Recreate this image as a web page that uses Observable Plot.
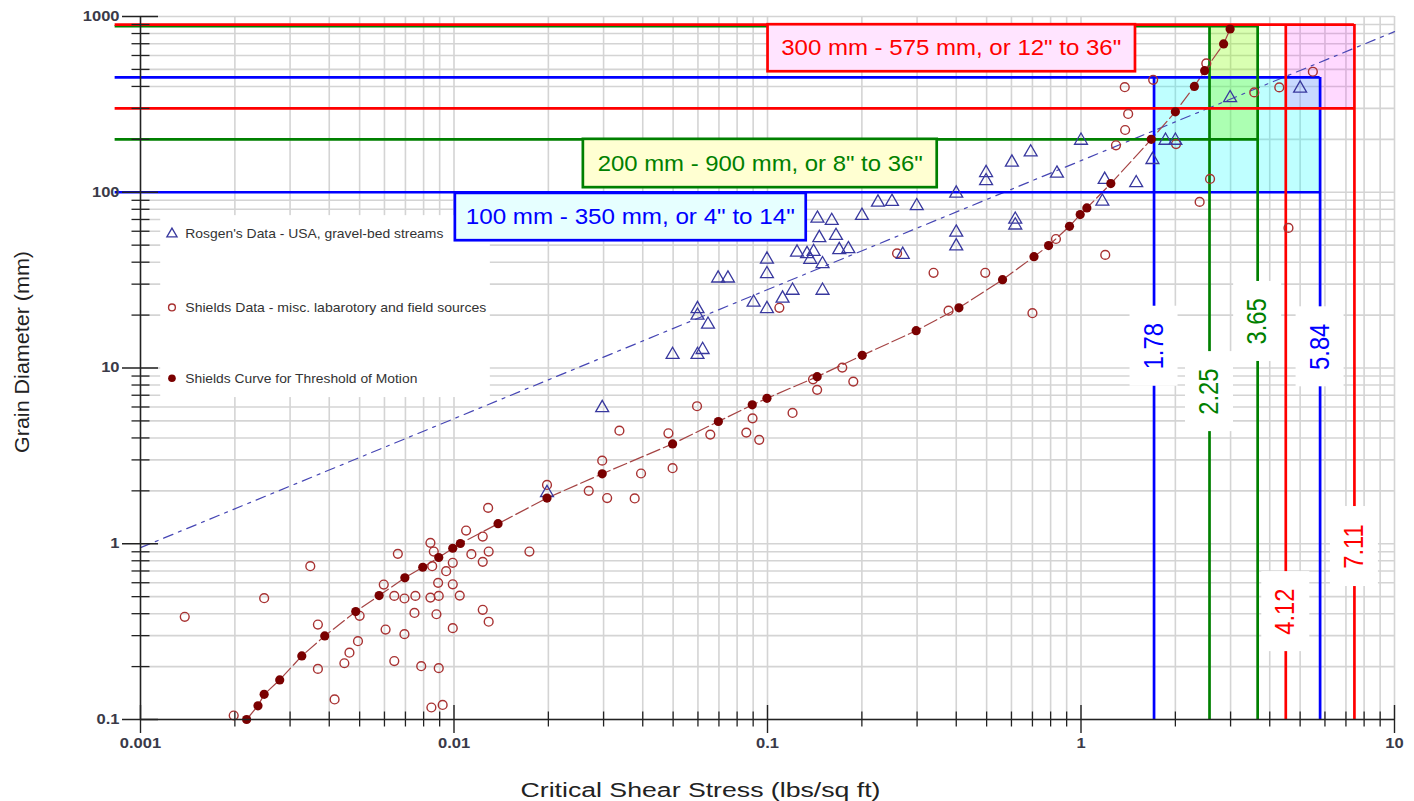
<!DOCTYPE html>
<html>
<head>
<meta charset="utf-8">
<script src="https://cdn.jsdelivr.net/npm/d3@7"></script>
<script src="https://cdn.jsdelivr.net/npm/@observablehq/plot@0.6"></script>
<style>
  html, body { margin: 0; padding: 0; background: #ffffff; }
  #chart svg { display: block; }
</style>
</head>
<body>
<div id="chart"></div>
<script>
// ---------------- DATA ----------------
// Rosgen's Data - USA, gravel-bed streams (critical shear stress lbs/sq ft, grain diameter mm)
const rosgenX = [0.0198, 0.0297, 0.0498, 0.0598, 0.0621, 0.0598, 0.0598, 0.0646, 0.0696, 0.0748,
  0.0903, 0.0996, 0.0996, 0.0996, 0.1117, 0.1202, 0.1498, 0.1242, 0.1337, 0.1403,
  0.1369, 0.1498, 0.1463, 0.1654, 0.1443, 0.1603, 0.1694, 0.1811, 0.2001, 0.2251,
  0.2495, 0.2993, 0.270, 0.400, 0.400, 0.400, 0.498, 0.498, 0.602, 0.691,
  0.617, 0.617, 0.838, 1.0, 1.19, 1.17, 1.50, 1.69, 1.86, 2.00, 2.99, 5.00];
const rosgenY = [1.95, 5.93, 11.9, 11.9, 12.7, 19.9, 21.7, 17.7, 32.4, 32.4,
  23.6, 21.7, 34.3, 41.5, 24.9, 27.6, 27.6, 45.5, 44.6, 45.9,
  41.4, 39.1, 55.0, 56.6, 71.0, 68.9, 47.0, 47.6, 73.6, 87.6,
  88.4, 83.6, 44.2, 98.6, 59.1, 49.4, 129, 116, 148, 169,
  70.0, 64.9, 128, 197, 118, 88.6, 113, 153, 197, 197, 344, 390];

// Shields Data - misc. laboratory and field sources
const shieldsX = [0.001384, 0.001983, 0.00248, 0.00348, 0.00368, 0.00368, 0.00416, 0.00447, 0.00464, 0.00494,
  0.00500, 0.00597, 0.00645, 0.00662, 0.00605, 0.00645, 0.00695, 0.00695, 0.00748, 0.00753,
  0.00786, 0.00841, 0.00862, 0.00852, 0.00841, 0.00894, 0.00890, 0.00879, 0.00894, 0.00847,
  0.00920, 0.00944, 0.00991, 0.00991, 0.01043, 0.00991, 0.01093, 0.01136, 0.01235, 0.01285,
  0.01290, 0.01235, 0.01235, 0.0129, 0.0174, 0.0198, 0.0269, 0.0308, 0.0377, 0.0395,
  0.0297, 0.0337, 0.0483, 0.0498, 0.0596, 0.0657, 0.0856, 0.0896, 0.0941, 0.1202,
  0.1397, 0.144, 0.1732, 0.1878, 0.1091, 0.259, 0.3386, 0.495, 0.378, 0.700, 0.832, 1.195,
  1.293, 1.383, 1.414, 1.379, 1.699, 2.01, 2.51, 3.57, 4.29, 5.49,
  2.58, 2.39, 4.59];
const shieldsY = [0.384, 0.1054, 0.490, 0.745, 0.347, 0.194, 0.130, 0.209, 0.240, 0.279,
  0.389, 0.586, 0.505, 0.876, 0.325, 0.215, 0.488, 0.306, 0.404, 0.505,
  0.201, 1.012, 0.903, 0.745, 0.494, 0.505, 0.599, 0.397, 0.196, 0.117,
  0.121, 0.698, 0.779, 0.588, 0.507, 0.331, 1.189, 0.872, 1.099, 1.60,
  0.903, 0.789, 0.421, 0.360, 0.903, 2.16, 2.00, 1.82, 1.81, 2.51,
  2.97, 4.40, 4.25, 2.69, 6.06, 4.18, 4.29, 5.17, 3.90, 5.55,
  8.62, 7.51, 10.05, 8.37, 22.0, 44.9, 34.8, 34.8, 21.2, 20.5, 54.2, 44.0,
  185, 226, 279, 396, 436, 188, 541, 370, 395, 485,
  119, 88.1, 62.7];

// Shields Curve for Threshold of Motion
const curveX = [0.00218, 0.00237, 0.00248, 0.00278, 0.00327, 0.00387, 0.00486, 0.00577, 0.00697, 0.00795,
  0.00894, 0.00991, 0.01048, 0.01382, 0.0198, 0.0297, 0.0498, 0.0697, 0.0894, 0.0996,
  0.144, 0.2005, 0.298, 0.408, 0.562, 0.708, 0.788, 0.919, 0.994, 1.044,
  1.245, 1.675, 2.00, 2.30, 2.48, 2.85, 2.99];
const curveY = [0.1, 0.1197, 0.139, 0.168, 0.230, 0.299, 0.411, 0.507, 0.640, 0.735,
  0.835, 0.943, 1.003, 1.30, 1.82, 2.50, 3.70, 4.96, 6.17, 6.72,
  8.93, 11.8, 16.3, 22.0, 31.8, 43.0, 49.7, 64.0, 74.6, 81.4,
  112, 200, 287, 400, 492, 698, 849];

// Rosgen trend line (dash-dot)
const trendX = [0.001, 10];
const trendY = [0.95, 820];

// Size-class ranges: shear stress bounds (as drawn) and diameter bounds (as drawn)
const rangeText = ["100 mm - 350 mm, or 4\" to 14\"", "200 mm - 900 mm, or 8\" to 36\"", "300 mm - 575 mm, or 12\" to 36\""];
const rangeXLow = [1.71, 2.57, 4.50];
const rangeXHigh = [5.79, 3.66, 7.45];
const rangeYLow = [100, 200, 300];
const rangeYHigh = [450, 880, 900];
const rangeLowLabel = ["1.78", "2.25", "4.12"];
const rangeHighLabel = ["5.84", "3.65", "7.11"];

// Axis ticks
const xMajor = [0.001, 0.01, 0.1, 1, 10];
const xMajorLabels = ["0.001", "0.01", "0.1", "1", "10"];
const yMajor = [0.1, 1, 10, 100, 1000];
const yMajorLabels = ["0.1", "1", "10", "100", "1000"];
const minorMult = [2, 3, 4, 5, 6, 7, 8, 9];

const legendLabels = ["Rosgen's Data - USA, gravel-bed streams",
  "Shields Data - misc. labarotory and field sources",
  "Shields Curve for Threshold of Motion"];

const xTitle = "Critical Shear Stress (lbs/sq ft)";
const yTitle = "Grain Diameter (mm)";

// ---------------- STYLES / ANNOTATION ANCHORS ----------------
const rangeColors = ["#0000ff", "#008000", "#ff0000"];
const rangeFills = ["#00ffff", "#80ff00", "#ff00ff"];
const rangeFillOpacity = [0.25, 0.3, 0.15];
const labelBoxFills = ["#e6ffff", "#ffffd2", "#ffe4ff"];
// label box anchors (data units): [x1, x2, y1, y2, textX, textY]
const labelBoxes = [
  [0.0101, 0.1329, 98.5, 53.0, 0.0365, 72.6],
  [0.02586, 0.3478, 200, 106.2, 0.0948, 145.4],
  [0.1004, 1.492, 898, 485, 0.3855, 664]
];
// vertical value label anchors (y, data units) for low/high lines
const lowLabelY = [13.3, 7.34, 0.411];
const highLabelY = [13.2, 18.4, 0.964];
const lineStartX = 0.00083;

const rosgen = rosgenX.map((x, i) => ({x, y: rosgenY[i]}));
const shields = shieldsX.map((x, i) => ({x, y: shieldsY[i]}));
const curve = curveX.map((x, i) => ({x, y: curveY[i]}));
const trend = trendX.map((x, i) => ({x, y: trendY[i]}));

const xMinor = xMajor.slice(0, -1).flatMap(d => minorMult.map(m => +(d * m).toPrecision(6)));
const yMinor = yMajor.slice(0, -1).flatMap(d => minorMult.map(m => +(d * m).toPrecision(6)));
const xGrid = xMajor.concat(xMinor);
const yGrid = yMajor.concat(yMinor);

const marks = [];
// grid
marks.push(Plot.ruleX(xGrid, {x: d => d, stroke: "#d4d4d4", strokeWidth: 1.6}));
marks.push(Plot.ruleY(yGrid, {y: d => d, stroke: "#d4d4d4", strokeWidth: 1.6}));

// range fills
rangeText.forEach((t, i) => {
  marks.push(Plot.rect([i], {
    x1: () => rangeXLow[i], x2: () => rangeXHigh[i],
    y1: () => rangeYLow[i], y2: () => rangeYHigh[i],
    fill: rangeFills[i], fillOpacity: rangeFillOpacity[i]
  }));
});

// trend + curve lines
marks.push(Plot.line(trend, {x: "x", y: "y", stroke: "#4646b4", strokeWidth: 1.2, strokeDasharray: "10,6,3,6"}));
marks.push(Plot.line(curve, {x: "x", y: "y", stroke: "#a54444", strokeWidth: 1.2, strokeDasharray: "14,4"}));

// range lines
rangeText.forEach((t, i) => {
  const c = rangeColors[i];
  marks.push(Plot.ruleY([rangeYLow[i], rangeYHigh[i]], {y: d => d, x1: lineStartX, x2: rangeXHigh[i], stroke: c, strokeWidth: 2.7}));
  marks.push(Plot.ruleX([rangeXLow[i], rangeXHigh[i]], {x: d => d, y1: yMajor[0], y2: rangeYHigh[i], stroke: c, strokeWidth: 2.7}));
});

// points
marks.push(Plot.dot(shields, {x: "x", y: "y", r: 4.4, stroke: "#a83232", strokeWidth: 1.4, fill: "none"}));
marks.push(Plot.dot(rosgen, {x: "x", y: "y", symbol: "triangle", r: 4.8, stroke: "#38389e", strokeWidth: 1.3, fill: "none"}));
marks.push(Plot.dot(curve, {x: "x", y: "y", r: 4.6, fill: "#7a0000", stroke: "none"}));

// legend (inside plot)
const legendAnchor = {x1: 0.00116, x2: 0.01306, y1: 73.6, y2: 6.79, sx: 0.00126, tx: 0.00139, ys: [57.9, 22.1, 8.74]};
marks.push(Plot.rect([0], {x1: () => legendAnchor.x1, x2: () => legendAnchor.x2, y1: () => legendAnchor.y1, y2: () => legendAnchor.y2, fill: "white"}));
marks.push(Plot.dot([0], {x: () => legendAnchor.sx, y: () => legendAnchor.ys[0], symbol: "triangle", r: 3.8, stroke: "#38389e", strokeWidth: 1.3}));
marks.push(Plot.dot([0], {x: () => legendAnchor.sx, y: () => legendAnchor.ys[1], r: 3.4, stroke: "#a83232", strokeWidth: 1.4}));
marks.push(Plot.dot([0], {x: () => legendAnchor.sx, y: () => legendAnchor.ys[2], r: 3.8, fill: "#7a0000", stroke: "none"}));
marks.push(Plot.text(legendLabels, {x: () => legendAnchor.tx, y: (d, i) => legendAnchor.ys[i], text: d => d, textAnchor: "start", fontSize: 13.5, fill: "#333"}));

// range label boxes
rangeText.forEach((t, i) => {
  const b = labelBoxes[i];
  marks.push(Plot.rect([t], {x1: () => b[0], x2: () => b[1], y1: () => b[2], y2: () => b[3],
    fill: labelBoxFills[i], stroke: rangeColors[i], strokeWidth: 2.7}));
  marks.push(Plot.text([t], {x: () => b[4], y: () => b[5], text: d => d, fill: rangeColors[i], fontSize: 22}));
});

// vertical value labels with white backgrounds
rangeText.forEach((t, i) => {
  const vl = [
    {x: rangeXLow[i], y: lowLabelY[i], t: rangeLowLabel[i]},
    {x: rangeXHigh[i], y: highLabelY[i], t: rangeHighLabel[i]}
  ];
  marks.push(Plot.rect(vl, {x1: "x", x2: "x", y1: "y", y2: "y", fill: "white",
    insetLeft: -24, insetRight: -24, insetTop: -40, insetBottom: -40}));
  marks.push(Plot.text(vl, {x: "x", y: "y", text: "t", rotate: -90, fill: rangeColors[i], fontSize: 27}));
});

// axes lines
marks.push(Plot.ruleX([xMajor[0]], {x: d => d, y1: yMajor[0], y2: yMajor[yMajor.length - 1], stroke: "#222", strokeWidth: 1.5}));
marks.push(Plot.ruleY([yMajor[0]], {y: d => d, x1: xMajor[0], x2: xMajor[xMajor.length - 1], stroke: "#222", strokeWidth: 1.5}));
// ticks
marks.push(Plot.ruleX(xMajor, {x: d => d, y1: yMajor[0], y2: yMajor[0], insetTop: -14, insetBottom: -14, stroke: "#222", strokeWidth: 1.4}));
marks.push(Plot.ruleX(xMinor, {x: d => d, y1: yMajor[0], y2: yMajor[0], insetTop: -7.5, insetBottom: -7.5, stroke: "#222", strokeWidth: 1.3}));
marks.push(Plot.ruleY(yMajor, {y: d => d, x1: xMajor[0], x2: xMajor[0], insetLeft: -18, insetRight: -18, stroke: "#222", strokeWidth: 1.4}));
marks.push(Plot.ruleY(yMinor, {y: d => d, x1: xMajor[0], x2: xMajor[0], insetLeft: -8.5, insetRight: -9.5, stroke: "#222", strokeWidth: 1.3}));
// tick labels
marks.push(Plot.text(xMajor, {x: d => d, y: yMajor[0], text: (d, i) => xMajorLabels[i], dy: 24, fontSize: 14, fontWeight: "bold", fill: "#3a3a48"}));
marks.push(Plot.text(yMajor, {x: xMajor[0], y: d => d, text: (d, i) => yMajorLabels[i], dx: -21, textAnchor: "end", fontSize: 14, fontWeight: "bold", fill: "#3a3a48"}));
// axis titles
marks.push(Plot.text([xTitle], {frameAnchor: "bottom", textAnchor: "middle", lineAnchor: "middle", dx: -67, dy: 71, text: d => d, fontSize: 20, fill: "#222"}));
marks.push(Plot.text([yTitle], {frameAnchor: "left", textAnchor: "middle", lineAnchor: "middle", dx: -118, dy: -16, rotate: -90, text: d => d, fontSize: 20, fill: "#222"}));

const chart = Plot.plot({
  width: 1414,
  height: 801,
  marginLeft: 140,
  marginRight: 20,
  marginTop: 16,
  marginBottom: 82,
  style: {fontFamily: "'Liberation Sans', Arial, sans-serif", background: "#ffffff", overflow: "visible"},
  x: {type: "log", domain: [0.001, 10], axis: null},
  y: {type: "log", domain: [0.1, 1000], axis: null},
  marks
});
document.getElementById("chart").appendChild(chart);

// The source picture is horizontally stretched: widen horizontal texts to match
const targetLength = new Map([
  [xTitle, 360], [yTitle, 202],
  [rangeText[0], 329], [rangeText[1], 325], [rangeText[2], 340],
  [legendLabels[0], 258], [legendLabels[1], 301], [legendLabels[2], 232]
]);
const tickSet = new Set(xMajorLabels.concat(yMajorLabels));
const valueSet = new Set(rangeLowLabel.concat(rangeHighLabel));
d3.select(chart).selectAll("text").each(function() {
  const s = this.textContent;
  let L = null;
  if (targetLength.has(s)) L = targetLength.get(s);
  else if (valueSet.has(s)) L = this.getComputedTextLength() * 0.88;
  else if (tickSet.has(s)) L = this.getComputedTextLength() * 1.18;
  if (L) {
    this.setAttribute("textLength", L);
    this.setAttribute("lengthAdjust", "spacingAndGlyphs");
  }
});
</script>
</body>
</html>
